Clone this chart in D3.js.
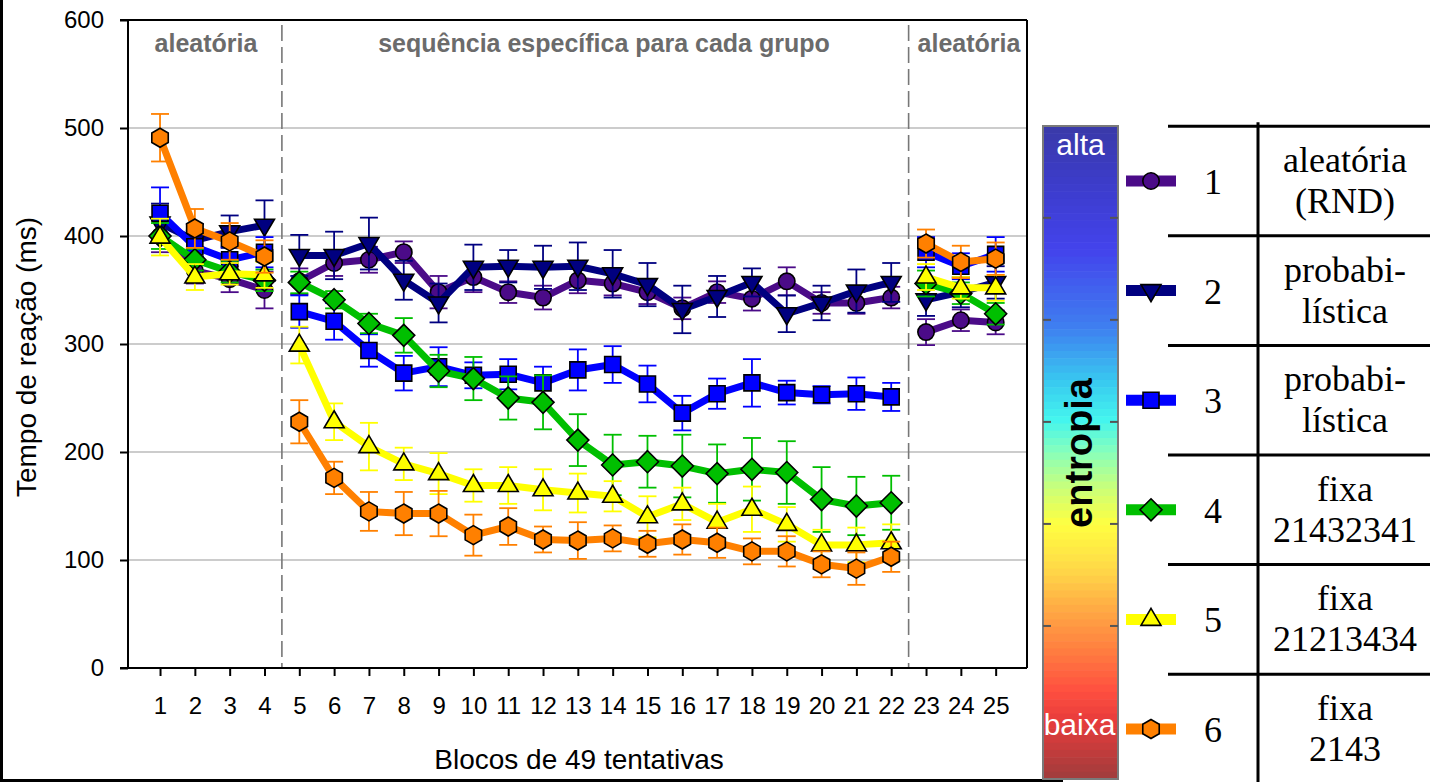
<!DOCTYPE html>
<html>
<head>
<meta charset="utf-8">
<script src="https://cdn.jsdelivr.net/npm/d3@7"></script>
<style>
  body { margin: 0; background: #fff; }
  svg { display: block; }
  text { font-family: "Liberation Sans", Arial, sans-serif; }
  .serif { font-family: "Liberation Serif", "Times New Roman", serif; }
</style>
</head>
<body>
<svg id="chart" width="1430" height="782"></svg>
<script>
// Blocks of 49 trials (x categories)
const blocks = [1,2,3,4,5,6,7,8,9,10,11,12,13,14,15,16,17,18,19,20,21,22,23,24,25];

// Mean reaction time (ms) per block, one array per group
const rtGroup1 = [400,368,360,350,358,375,378,385,348,362,348,343,359,356,348,333,348,342,358,338,338,343,311,322,320];
const rtGroup2 = [412,396,404,410,382,382,393,359,338,371,372,371,372,365,355,332,344,357,328,338,349,357,341,348,357];
const rtGroup3 = [421,390,378,385,330,321,294,273,279,271,272,264,276,281,263,236,254,264,255,253,254,251,385,372,383];
const rtGroup4 = [400,378,367,359,357,341,319,308,275,268,250,246,211,188,191,187,180,184,181,156,150,153,356,347,328];
const rtGroup5 = [399,362,365,364,299,228,205,189,180,169,169,165,162,159,140,152,135,147,133,114,114,116,362,352,352];
const rtGroup6 = [491,407,395,381,228,176,145,143,143,123,131,119,118,120,115,119,116,108,108,96,92,103,393,376,379];

// Standard error (ms) per block, one array per group
const seGroup1 = [15,12,12,17,12,12,12,10,15,14,10,11,12,11,11,10,10,11,13,10,10,10,12,10,11];
const seGroup2 = [18,15,15,23,19,22,24,18,18,21,15,20,22,22,20,22,19,13,17,16,20,18,15,14,15];
const seGroup3 = [24,15,12,14,15,17,15,16,18,12,14,15,19,17,17,16,14,22,11,8,15,13,14,12,16];
const seGroup4 = [12,10,10,10,10,8,9,16,15,20,20,25,24,28,24,29,27,29,29,30,27,25,12,10,10];
const seGroup5 = [17,12,10,12,17,17,22,15,19,15,17,19,18,14,19,15,17,21,16,14,16,17,12,10,12];
const seGroup6 = [22,18,17,15,20,15,18,20,21,19,17,12,17,12,12,14,14,12,14,12,15,14,13,15,15];

const groupIds = ["1","2","3","4","5","6"];
const groupColors = ["#4b0b88","#000080","#0000ff","#00bf00","#ffff00","#ff8000"];
const groupShapes = ["circle","triangleDown","square","diamond","triangleUp","hexagon"];
const groupLabels = [["aleatória","(RND)"],["probabi-","lística"],["probabi-","lística"],["fixa","21432341"],["fixa","21213434"],["fixa","2143"]];

const yTicks = [0,100,200,300,400,500,600];
const gridValues = [100,200,300,400,500];
const phaseBreaks = [4.5, 22.5];
const phaseLabels = ["aleatória","sequência específica para cada grupo","aleatória"];

// Entropy colour bar: stops from top (alta) to bottom (baixa)
const entropyStops = [0,0.083,0.19,0.31,0.39,0.45,0.50,0.557,0.61,0.68,0.74,0.80,0.864,0.91,1];
const entropyColors = ["#3a3aa8","#3c3cc8","#4343ec","#3f80f0","#38c8f0","#44f5ee","#88ffbb","#ccff77","#ffff40","#ffd848","#ffaa44","#ff8040","#ff5040","#e83c3c","#a03c3c"];
const entropyTicks = [1.5,2.5,3.5,4.5,5.5];

const rtAll = [rtGroup1,rtGroup2,rtGroup3,rtGroup4,rtGroup5,rtGroup6];
const seAll = [seGroup1,seGroup2,seGroup3,seGroup4,seGroup5,seGroup6];
const phaseOf = b => d3.bisectLeft(phaseBreaks, b);

const series = rtAll.map((vals,i) => ({
  id: groupIds[i],
  color: groupColors[i],
  shape: groupShapes[i],
  points: blocks.map((b,j) => ({ x: b, y: vals[j], se: seAll[i][j], phase: phaseOf(b) }))
}));

const svg = d3.select("#chart");

// Outer figure border (left and bottom)
svg.append("rect").attr("x",0).attr("y",0).attr("width",3).attr("height",782).attr("fill","#000");
svg.append("rect").attr("x",0).attr("y",779).attr("width",1063).attr("height",3).attr("fill","#000");

const plot = { left: 128, right: 1027, top: 20, bottom: 668 };
const x = d3.scaleLinear().domain([0.08, 25.9]).range([plot.left, plot.right]);
const y = d3.scaleLinear().domain([0, 600]).range([plot.bottom, plot.top]);

// Gridlines
svg.append("g").selectAll("line").data(gridValues).join("line")
  .attr("x1", plot.left).attr("x2", plot.right)
  .attr("y1", d => y(d)).attr("y2", d => y(d))
  .attr("stroke", "#cccccc").attr("stroke-width", 2);

// Phase separators
svg.append("g").selectAll("line").data(phaseBreaks).join("line")
  .attr("x1", d => x(d)).attr("x2", d => x(d))
  .attr("y1", plot.top + 5).attr("y2", plot.bottom)
  .attr("stroke", "#777").attr("stroke-width", 1.6).attr("stroke-dasharray", "16,6");

// Phase labels
const phaseCenters = [206, 604, 969];
svg.append("g").selectAll("text").data(phaseLabels).join("text")
  .attr("x", (d,i) => phaseCenters[i]).attr("y", 52)
  .attr("text-anchor", "middle")
  .attr("font-size", 25).attr("font-weight", "bold").attr("fill", "#6b6b6b")
  .text(d => d);

// Axes
const yAxis = svg.append("g").attr("transform", `translate(${plot.left},0)`)
  .call(d3.axisLeft(y).tickValues(yTicks).tickSize(8).tickPadding(16));
const xAxis = svg.append("g").attr("transform", `translate(0,${plot.bottom})`)
  .call(d3.axisBottom(x).tickValues(blocks).tickFormat(d3.format("d")).tickSize(8).tickPadding(21));
[yAxis, xAxis].forEach(g => {
  g.select(".domain").remove();
  g.selectAll(".tick line").attr("stroke", "#000").attr("stroke-width", 2);
  g.selectAll(".tick text").attr("font-size", 24).attr("fill", "#000")
    .attr("font-family", '"Liberation Sans", Arial, sans-serif');
});

// Frame
const frame = svg.append("g").attr("stroke", "#000").attr("stroke-width", 2).attr("fill", "none");
frame.append("line").attr("x1", plot.left).attr("x2", plot.left).attr("y1", plot.top).attr("y2", plot.bottom);
frame.append("line").attr("x1", plot.left - 8).attr("x2", plot.right).attr("y1", plot.bottom).attr("y2", plot.bottom);
frame.append("line").attr("x1", plot.left - 8).attr("x2", plot.right).attr("y1", plot.top).attr("y2", plot.top);
frame.append("line").attr("x1", plot.right).attr("x2", plot.right).attr("y1", plot.top).attr("y2", plot.bottom);

// Axis titles
svg.append("text").attr("transform", "translate(36,357) rotate(-90)")
  .attr("text-anchor", "middle").attr("font-size", 28).text("Tempo de reação (ms)");
svg.append("text").attr("x", 579).attr("y", 769)
  .attr("text-anchor", "middle").attr("font-size", 28).text("Blocos de 49 tentativas");

// Marker shapes
function shapePath(type, k) {
  const s = k || 1;
  switch (type) {
    case "circle": { const r = 8.2*s; return `M${-r},0A${r},${r} 0 1,0 ${r},0A${r},${r} 0 1,0 ${-r},0Z`; }
    case "square": { const h = 8*s; return `M${-h},${-h}H${h}V${h}H${-h}Z`; }
    case "triangleDown": return `M${-10*s},${-6*s}L${10*s},${-6*s}L0,${11*s}Z`;
    case "triangleUp": return `M0,${-11*s}L${10*s},${6*s}L${-10*s},${6*s}Z`;
    case "diamond": return `M0,${-11*s}L${11*s},0L0,${11*s}L${-11*s},0Z`;
    case "hexagon": {
      const r = 9.5*s;
      const pts = d3.range(6).map(i => { const a = -Math.PI/2 + i*Math.PI/3; return [r*Math.cos(a), r*Math.sin(a)]; });
      return "M" + pts.map(p => p.join(",")).join("L") + "Z";
    }
  }
}

const line = d3.line().x(d => x(d.x)).y(d => y(d.y));
const cap = 9;

series.forEach(s => {
  const g = svg.append("g");
  // error bars
  const eb = g.append("g").attr("stroke", s.color).attr("stroke-width", 1.8);
  eb.selectAll("line.v").data(s.points).join("line").attr("class","v")
    .attr("x1", d => x(d.x)).attr("x2", d => x(d.x))
    .attr("y1", d => y(d.y + d.se)).attr("y2", d => y(d.y - d.se));
  eb.selectAll("line.t").data(s.points).join("line").attr("class","t")
    .attr("x1", d => x(d.x) - cap).attr("x2", d => x(d.x) + cap)
    .attr("y1", d => y(d.y + d.se)).attr("y2", d => y(d.y + d.se));
  eb.selectAll("line.b").data(s.points).join("line").attr("class","b")
    .attr("x1", d => x(d.x) - cap).attr("x2", d => x(d.x) + cap)
    .attr("y1", d => y(d.y - d.se)).attr("y2", d => y(d.y - d.se));
  // connecting line, one segment per phase
  const segments = d3.groups(s.points, d => d.phase).map(([, pts]) => pts);
  g.selectAll("path.seg").data(segments).join("path").attr("class","seg")
    .attr("d", line)
    .attr("fill", "none").attr("stroke", s.color).attr("stroke-width", 7)
    .attr("stroke-linejoin", "round");
  // markers
  g.selectAll("path.m").data(s.points).join("path").attr("class","m")
    .attr("transform", d => `translate(${x(d.x)},${y(d.y)})`)
    .attr("d", shapePath(s.shape))
    .attr("fill", s.color).attr("stroke", "#000").attr("stroke-width", 1.6);
});

// Entropy colour bar
const bar = { x: 1043, y: 126, w: 75, h: 653 };
const entropyColor = d3.scaleLinear().domain(entropyStops).range(entropyColors).interpolate(d3.interpolateRgb);
const nBands = 90;
svg.append("g").selectAll("rect").data(d3.range(nBands)).join("rect")
  .attr("x", bar.x).attr("width", bar.w)
  .attr("y", i => bar.y + i*bar.h/nBands).attr("height", bar.h/nBands + 0.6)
  .attr("fill", i => entropyColor((i + 0.5)/nBands));
svg.append("rect").attr("x", bar.x).attr("y", bar.y).attr("width", bar.w).attr("height", bar.h)
  .attr("fill", "none").attr("stroke", "#7a7a7a").attr("stroke-width", 2);
const cb = d3.scaleLinear().domain([0, 6.4]).range([bar.y + bar.h, bar.y]);
const cbTicks = svg.append("g").attr("stroke", "#555").attr("stroke-width", 2);
cbTicks.selectAll("line.l").data(entropyTicks).join("line").attr("class","l")
  .attr("x1", bar.x).attr("x2", bar.x + 8).attr("y1", d => cb(d)).attr("y2", d => cb(d));
cbTicks.selectAll("line.r").data(entropyTicks).join("line").attr("class","r")
  .attr("x1", bar.x + bar.w - 8).attr("x2", bar.x + bar.w).attr("y1", d => cb(d)).attr("y2", d => cb(d));
svg.append("text").attr("x", bar.x + bar.w/2).attr("y", 155).attr("text-anchor","middle")
  .attr("font-size", 30).attr("fill", "#fff").text("alta");
svg.append("text").attr("x", bar.x + bar.w/2 - 1).attr("y", 735).attr("text-anchor","middle")
  .attr("font-size", 30).attr("fill", "#fff").text("baixa");
svg.append("text").attr("transform", "translate(1092,453) rotate(-90)").attr("text-anchor","middle")
  .attr("font-size", 38).attr("font-weight","bold").attr("fill","#000").text("entropia");

// Legend and group table
const ly = d3.scalePoint().domain(groupIds).range([181, 729]);
const step = ly.step();
const legend = svg.append("g");
series.forEach((s,i) => {
  const cy = ly(s.id);
  legend.append("line").attr("x1", 1126).attr("x2", 1176).attr("y1", cy).attr("y2", cy)
    .attr("stroke", s.color).attr("stroke-width", 11);
  legend.append("path").attr("transform", `translate(1151,${cy})`).attr("d", shapePath(s.shape, 1.0))
    .attr("fill", s.color).attr("stroke", "#000").attr("stroke-width", 1.6);
  legend.append("text").attr("class","serif").attr("x", 1213).attr("y", cy).attr("dy", "0.36em")
    .attr("text-anchor","middle").attr("font-size", 36).text(s.id);
  legend.append("line").attr("x1", 1168).attr("x2", 1430).attr("y1", cy - step/2).attr("y2", cy - step/2)
    .attr("stroke", "#000").attr("stroke-width", 3);
  groupLabels[i].forEach((t,k) => {
    legend.append("text").attr("class","serif").attr("x", 1345).attr("y", cy - 9 + k*41)
      .attr("text-anchor","middle").attr("font-size", 36).text(t);
  });
});
legend.append("line").attr("x1", 1258).attr("x2", 1258).attr("y1", ly("1") - step/2 - 4).attr("y2", 782)
  .attr("stroke", "#000").attr("stroke-width", 3);
</script>
</body>
</html>
